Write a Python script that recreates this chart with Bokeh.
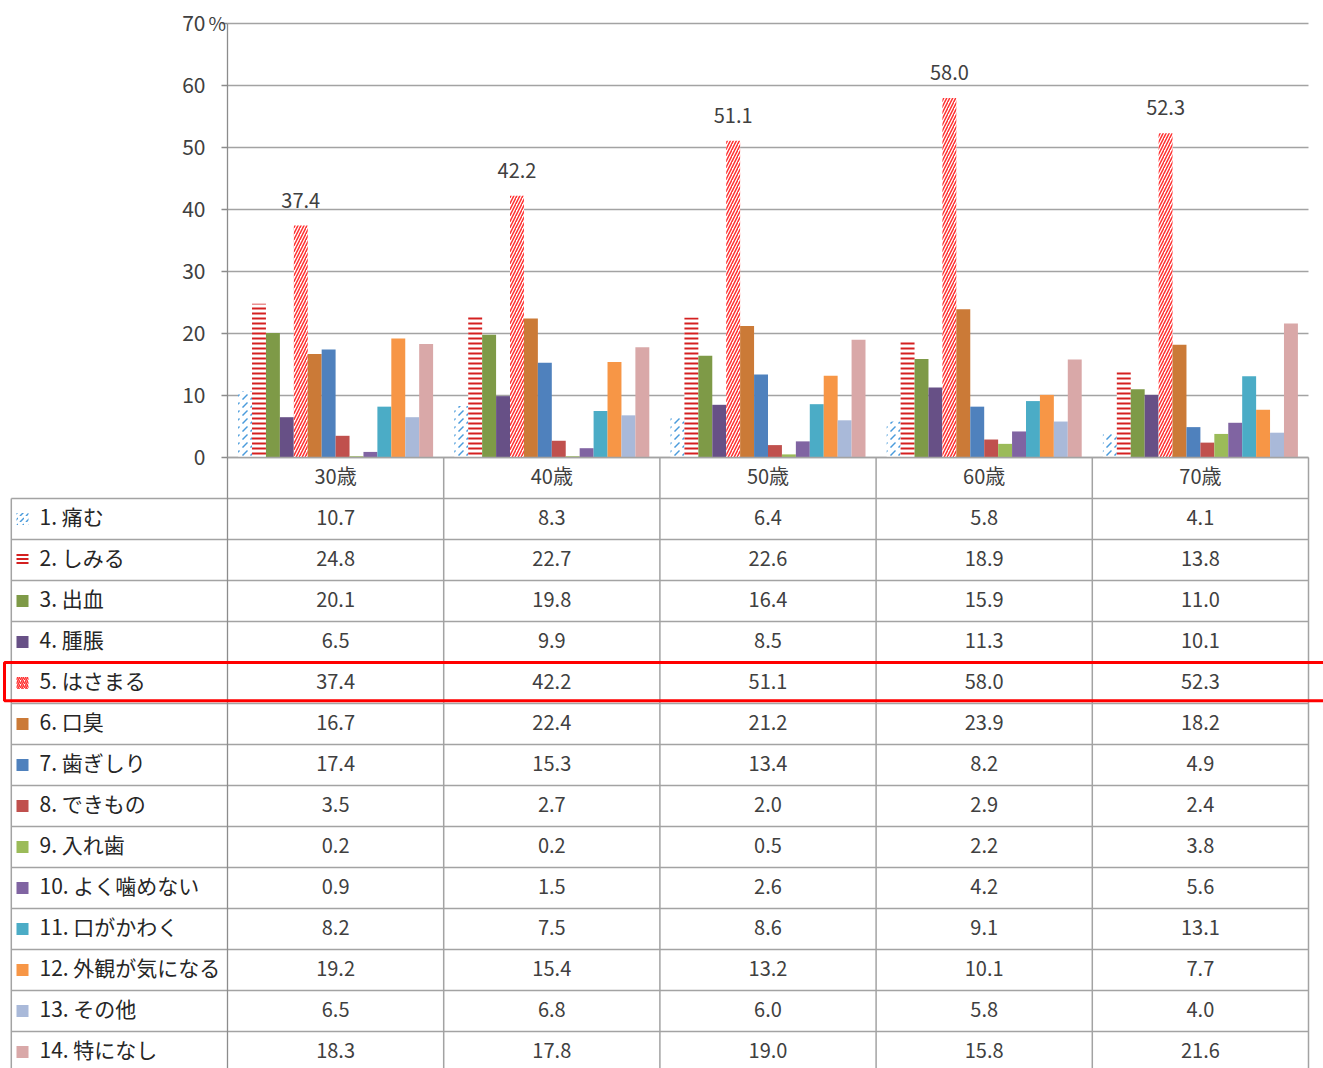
from bokeh.plotting import figure
from bokeh.models import Range1d
from bokeh.core.properties import value
from bokeh.embed import file_html
from bokeh.resources import INLINE

# ---------------- data ----------------
categories = ["30歳", "40歳", "50歳", "60歳", "70歳"]
series_names = ["1. 痛む", "2. しみる", "3. 出血", "4. 腫脹", "5. はさまる", "6. 口臭",
                "7. 歯ぎしり", "8. できもの", "9. 入れ歯", "10. よく噛めない",
                "11. 口がかわく", "12. 外観が気になる", "13. その他", "14. 特になし"]
s01_itamu = [10.7, 8.3, 6.4, 5.8, 4.1]
s02_shimiru = [24.8, 22.7, 22.6, 18.9, 13.8]
s03_shukketsu = [20.1, 19.8, 16.4, 15.9, 11.0]
s04_shucho = [6.5, 9.9, 8.5, 11.3, 10.1]
s05_hasamaru = [37.4, 42.2, 51.1, 58.0, 52.3]
s06_koshu = [16.7, 22.4, 21.2, 23.9, 18.2]
s07_hagishiri = [17.4, 15.3, 13.4, 8.2, 4.9]
s08_dekimono = [3.5, 2.7, 2.0, 2.9, 2.4]
s09_ireba = [0.2, 0.2, 0.5, 2.2, 3.8]
s10_kamenai = [0.9, 1.5, 2.6, 4.2, 5.6]
s11_kawaku = [8.2, 7.5, 8.6, 9.1, 13.1]
s12_gaikan = [19.2, 15.4, 13.2, 10.1, 7.7]
s13_sonota = [6.5, 6.8, 6.0, 5.8, 4.0]
s14_tokuni = [18.3, 17.8, 19.0, 15.8, 21.6]
series_values = [s01_itamu, s02_shimiru, s03_shukketsu, s04_shucho, s05_hasamaru,
                 s06_koshu, s07_hagishiri, s08_dekimono, s09_ireba, s10_kamenai,
                 s11_kawaku, s12_gaikan, s13_sonota, s14_tokuni]
y_ticks = [0, 10, 20, 30, 40, 50, 60, 70]
y_max = 70
labelled_series = 4  # "5. はさまる"

# ---------------- styles ----------------
FONT = "Noto Sans CJK JP"
TXT = "#404040"
GRID = "#A3A3A3"
AXIS = "#8C8C8C"
styles = [
    dict(fill_color="white", hatch_pattern=",", hatch_color="#4A9BDC", hatch_scale=8, hatch_weight=1.5),
    dict(fill_color="white", hatch_pattern="-", hatch_color="#D42020", hatch_scale=5, hatch_weight=2),
    dict(fill_color="#7E9A47"),
    dict(fill_color="#675086"),
    dict(fill_color="white", hatch_pattern="/", hatch_color="#FF3030", hatch_scale=6, hatch_weight=1.5),
    dict(fill_color="#CB7A37"),
    dict(fill_color="#4F81BD"),
    dict(fill_color="#C0504D"),
    dict(fill_color="#9BBB59"),
    dict(fill_color="#8064A2"),
    dict(fill_color="#4BACC6"),
    dict(fill_color="#F79646"),
    dict(fill_color="#A9B9D9"),
    dict(fill_color="#D9A8A8"),
]

# ---------------- page geometry ----------------
W, H = 1323, 1068
X0 = 227            # page x of the value axis
CAT_PX = 216.2      # px per category column
Y0 = 457            # page y of value 0
VAL_PX = 434 / y_max  # px per percent
ROW_PX = 41         # table row height
BAR_W = 13.93 / CAT_PX
n_series = len(series_names)
n_cat = len(categories)

p = figure(width=W, height=H,
           x_range=Range1d(-X0 / CAT_PX, (W - X0) / CAT_PX),
           y_range=Range1d(-(H - Y0) / VAL_PX, Y0 / VAL_PX),
           output_backend="svg", toolbar_location=None,
           x_axis_location=None, y_axis_location=None,
           min_border_left=0, min_border_right=0, min_border_top=0, min_border_bottom=0)
p.extra_y_ranges = {"table": Range1d(start=(H - Y0) / ROW_PX, end=-Y0 / ROW_PX)}
p.outline_line_color = None
p.grid.visible = False
p.background_fill_color = "white"

# ---------------- value axis & grid ----------------
p.segment(x0=[0] * len(y_ticks), y0=y_ticks, x1=[n_cat] * len(y_ticks), y1=y_ticks,
          line_color=GRID, line_width=1.3)
p.segment(x0=[-6 / CAT_PX] * len(y_ticks), y0=y_ticks, x1=[0] * len(y_ticks), y1=y_ticks,
          line_color=AXIS, line_width=1.3)
p.segment(x0=[0], y0=[0], x1=[0], y1=[y_max], line_color=AXIS, line_width=1.3)
p.text(x=[0] * len(y_ticks), y=y_ticks, text=[str(t) for t in y_ticks], x_offset=-22,
       y_offset=-1, text_align="right", text_baseline="middle", text_font=value(FONT),
       text_font_size="21px", text_color=TXT)
p.text(x=[0], y=[y_max], text=["%"], x_offset=-19, y_offset=-1, text_align="left",
       text_baseline="middle", text_font=value(FONT), text_font_size="19px", text_color=TXT)

# ---------------- bars ----------------
for j in range(n_series):
    off = (j - (n_series - 1) / 2) * BAR_W
    xs = [i + 0.5 + off for i in range(n_cat)]
    p.vbar(x=xs, top=series_values[j], bottom=0, width=BAR_W, line_color=None, **styles[j])

off5 = (labelled_series - (n_series - 1) / 2) * BAR_W
vals5 = series_values[labelled_series]
p.text(x=[i + 0.5 + off5 for i in range(n_cat)], y=vals5, text=[f"{v:.1f}" for v in vals5],
       text_align="center", text_baseline="bottom", y_offset=-18, text_font=value(FONT),
       text_font_size="20px", text_color=TXT)

# ---------------- table ----------------
T = dict(y_range_name="table")
n_rows = n_series + 1
hx0 = [0] + [-1] * n_rows
hx1 = [n_cat] * (n_rows + 1)
hy = list(range(n_rows + 1))
p.segment(x0=hx0, y0=hy, x1=hx1, y1=hy, line_color=GRID, line_width=1.5, **T)
vx = [-1] + list(range(1, n_cat + 1))
vy0 = [1] + [0] * n_cat
vy1 = [n_rows + 1] * (n_cat + 1)
p.segment(x0=vx, y0=vy0, x1=vx, y1=vy1, line_color=GRID, line_width=1.5, **T)
p.segment(x0=[0], y0=[0], x1=[0], y1=[n_rows + 1], line_color=AXIS, line_width=1.3, **T)

# header row
p.text(x=[i + 0.5 for i in range(n_cat)], y=[0.5] * n_cat, text=categories, y_offset=-3,
       text_align="center", text_baseline="middle", text_font=value(FONT),
       text_font_size="20px", text_color=TXT, **T)

# row labels + legend keys
rows_y = [k + 1.5 for k in range(n_series)]
p.text(x=[(39 - X0) / CAT_PX] * n_series, y=rows_y, text=series_names, y_offset=-3,
       text_align="left", text_baseline="middle", text_font=value(FONT),
       text_font_size="21px", text_color="#262626", **T)
for j in range(n_series):
    st = dict(styles[j])
    if "hatch_scale" in st:
        st["hatch_scale"] = max(4, st["hatch_scale"] - 2)
    p.rect(x=[(22 - X0) / CAT_PX], y=[rows_y[j]], width=12, height=12, width_units="screen",
           height_units="screen", line_color=None, **st, **T)

# values
vx_, vy_, vt_ = [], [], []
for j in range(n_series):
    for i in range(n_cat):
        vx_.append(i + 0.5)
        vy_.append(rows_y[j])
        vt_.append(f"{series_values[j][i]:.1f}")
p.text(x=vx_, y=vy_, text=vt_, y_offset=-2, text_align="center", text_baseline="middle",
       text_font=value(FONT), text_font_size="20px", text_color=TXT, **T)

# highlight box around row 5
hl = labelled_series + 1
p.quad(left=[(4 - X0) / CAT_PX], right=[n_cat + 1], top=[hl], bottom=[hl + 0.93],
       fill_color=None, line_color="#FF0000", line_width=3, **T)

open("out.html", "w").write(file_html(p, INLINE))
